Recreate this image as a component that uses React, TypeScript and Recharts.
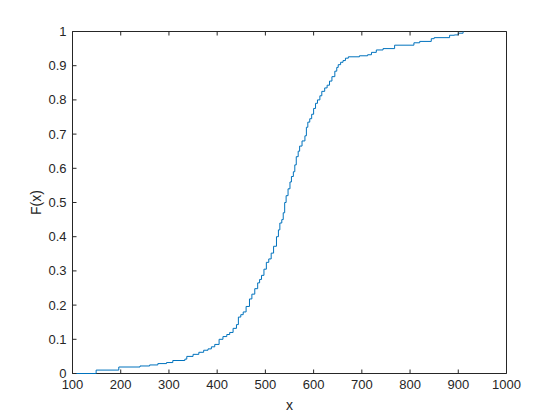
import { LineChart, Line, XAxis, YAxis } from "recharts";

const stepX = [
  105, 149, 196, 240, 260, 277, 295, 308, 333, 337, 350, 362, 372, 381, 388, 395, 404, 412, 420, 426,
  433, 440, 444, 449, 454, 460, 467, 472, 478, 484, 488, 492, 497, 502, 507, 512, 517, 523, 527, 530,
  534, 537, 540, 543, 547, 551, 554, 558, 561, 564, 568, 571, 576, 582, 585, 588, 592, 596, 600, 604,
  608, 613, 617, 623, 628, 633, 638, 644, 648, 651, 656, 661, 666, 672, 695, 712, 720, 730, 744, 768,
  808, 820, 844, 850, 882, 892, 900, 910,
];
const stepF = [
  0, 0.01, 0.019, 0.022, 0.025, 0.029, 0.032, 0.038, 0.042, 0.05, 0.056, 0.062, 0.068, 0.072, 0.078,
  0.085, 0.1, 0.108, 0.114, 0.12, 0.132, 0.143, 0.165, 0.172, 0.18, 0.196, 0.218, 0.232, 0.248, 0.265,
  0.275, 0.287, 0.305, 0.325, 0.335, 0.352, 0.372, 0.4, 0.42, 0.44, 0.45, 0.47, 0.5, 0.52, 0.54, 0.56,
  0.576, 0.59, 0.61, 0.634, 0.65, 0.665, 0.68, 0.695, 0.72, 0.735, 0.745, 0.758, 0.775, 0.79, 0.8,
  0.812, 0.825, 0.835, 0.843, 0.855, 0.868, 0.884, 0.895, 0.903, 0.91, 0.915, 0.922, 0.926, 0.929,
  0.932, 0.939, 0.946, 0.95, 0.96, 0.967, 0.971, 0.979, 0.982, 0.989, 0.99, 0.995, 1.0,
];

const xTicks = [100, 200, 300, 400, 500, 600, 700, 800, 900, 1000];
const yTicks = [0, 0.1, 0.2, 0.3, 0.4, 0.5, 0.6, 0.7, 0.8, 0.9, 1];

const AXIS = "#262626";
const FONT = "'Liberation Sans', Arial, Helvetica, sans-serif";
const data = stepX.map((x, i) => ({ x, f: stepF[i] }));

const fmtY = (v: number) => (v === 0 || v === 1 ? String(v) : v.toFixed(1));

const BottomTick = ({ x, y, payload }: any) => (
  <g>
    <line x1={x} y1={y} x2={x} y2={y - 4} stroke={AXIS} />
    <text x={x} y={y + 15} textAnchor="middle" fill={AXIS} fontSize={13} fontFamily={FONT}>
      {payload.value}
    </text>
  </g>
);

const TopTick = ({ x, y }: any) => <line x1={x} y1={y} x2={x} y2={y + 4} stroke={AXIS} />;

const LeftTick = ({ x, y, payload }: any) => (
  <g>
    <line x1={x} y1={y} x2={x + 4} y2={y} stroke={AXIS} />
    <text x={x - 6} y={y + 4.5} textAnchor="end" fill={AXIS} fontSize={13} fontFamily={FONT}>
      {fmtY(payload.value)}
    </text>
  </g>
);

const RightTick = ({ x, y }: any) => <line x1={x} y1={y} x2={x - 4} y2={y} stroke={AXIS} />;

export default function App() {
  return (
    <div style={{ position: "absolute", left: 0, top: 0, background: "#fff" }}>
      <LineChart width={560} height={420} data={data} margin={{ top: 30.5, right: 52.5, bottom: 45.5, left: 71.5 }}>
        <XAxis
          dataKey="x"
          type="number"
          domain={[100, 1000]}
          ticks={xTicks}
          height={1}
          tickSize={0}
          tickMargin={0}
          tickLine={false}
          tick={<BottomTick />}
          interval={0}
          axisLine={{ stroke: AXIS }}
          label={{
            content: ({ viewBox }: any) => (
              <text x={viewBox.x + viewBox.width / 2} y={viewBox.y + 36} textAnchor="middle" fill={AXIS} fontSize={14} fontFamily={FONT}>
                x
              </text>
            ),
          }}
        />
        <XAxis
          xAxisId="top"
          orientation="top"
          dataKey="x"
          type="number"
          domain={[100, 1000]}
          ticks={xTicks}
          height={1}
          tickSize={0}
          tickMargin={0}
          tickLine={false}
          tick={<TopTick />}
          interval={0}
          axisLine={{ stroke: AXIS }}
        />
        <YAxis
          type="number"
          domain={[0, 1]}
          ticks={yTicks}
          width={1}
          tickSize={0}
          tickMargin={0}
          tickLine={false}
          tick={<LeftTick />}
          interval={0}
          axisLine={{ stroke: AXIS }}
          label={{
            content: ({ viewBox }: any) => {
              const cx = viewBox.x - 34;
              const cy = viewBox.y + viewBox.height / 2;
              return (
                <text x={cx} y={cy} transform={`rotate(-90 ${cx} ${cy})`} textAnchor="middle" dominantBaseline="middle" fill={AXIS} fontSize={14} fontFamily={FONT}>
                  F(x)
                </text>
              );
            },
          }}
        />
        <YAxis
          yAxisId="right"
          orientation="right"
          type="number"
          domain={[0, 1]}
          ticks={yTicks}
          width={1}
          tickSize={0}
          tickMargin={0}
          tickLine={false}
          tick={<RightTick />}
          interval={0}
          axisLine={{ stroke: AXIS }}
        />
        <Line type="stepAfter" dataKey="f" stroke="#0072BD" strokeWidth={1} dot={false} isAnimationActive={false} zIndex={1000} />
      </LineChart>
    </div>
  );
}
